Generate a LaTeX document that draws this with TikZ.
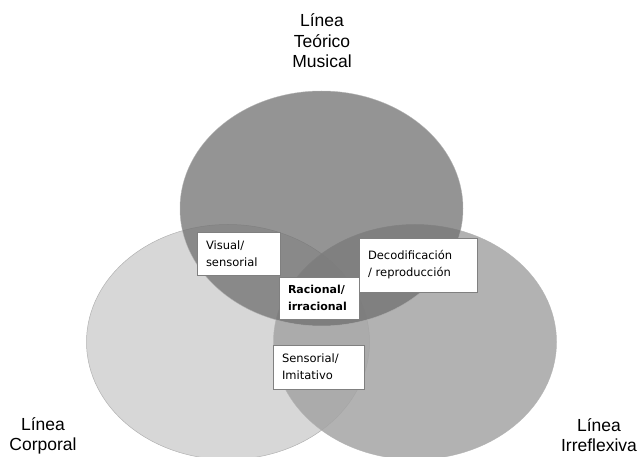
\documentclass[tikz,border=0pt]{standalone}
\usepackage{fontspec}
\setmainfont{Liberation Sans}
\newfontfamily\boxfont{DejaVu Sans}
\usepackage{xcolor}
\usetikzlibrary{shapes.geometric}

\definecolor{LineaLeftGray}{RGB}{215,215,215}
\definecolor{LineaRightGray}{RGB}{164,164,164}
\definecolor{LineaTopGray}{RGB}{112,112,112}

\tikzset{
  linea/.style={align=center,font=\fontsize{17.5}{20.5}\selectfont},
  circulo/.style={ellipse,draw=black!30,line width=0.5pt,inner sep=0pt,minimum width=283pt,minimum height=235pt},
  zonebox/.style={draw=black!50,fill=white,align=left,inner xsep=9pt,inner ysep=0pt,font={\boxfont\fontsize{11.5}{17}\selectfont}}
}

\begin{document}
\begin{tikzpicture}[x=1pt,y=-1pt,line width=0.6pt]
\clip (0,0) rectangle (638,457);


% 1
\node[circulo,fill=LineaLeftGray] (CircleLeft) at (228,342) {};
\node[circulo,fill=LineaRightGray,fill opacity=0.85,draw opacity=0.85] (CircleRight) at (415,342) {};
\node[circulo,fill=LineaTopGray,fill opacity=0.75,draw opacity=0.75] (CircleTop) at (321.5,208.5) {};


% 2
\node[linea] (LineaTop) at (322,41) {Línea\\Teórico\\Musical};
\node[linea] (LineaLeft) at (43,436) {Línea\\Corporal};
\node[linea] (LineaRight) at (599,435) {Línea\\Irreflexiva};


% 3
\node[zonebox,text width=65pt,minimum height=43pt] (BoxVisual) at (238.5,254) {Visual/\\sensorial};
\node[zonebox,text width=62pt,minimum height=42pt,font={\boxfont\bfseries\fontsize{11}{17}\selectfont}] (BoxRacional) at (319,298) {Racional/\\irracional};
\node[zonebox,text width=100pt,minimum height=54pt] (BoxDecod) at (418,265) {Decodificación\\/ reproducción};
\node[zonebox,text width=73pt,minimum height=44pt] (BoxSensorial) at (318.5,367) {Sensorial/\\Imitativo}; % here


\end{tikzpicture}
\end{document}
